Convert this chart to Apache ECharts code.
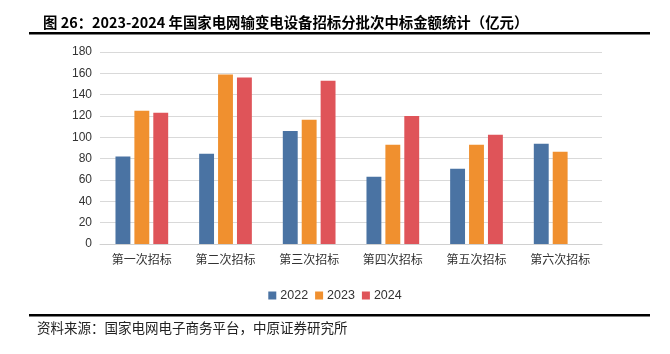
<!DOCTYPE html>
<html>
<head>
<meta charset="utf-8">
<script src="https://cdn.jsdelivr.net/npm/echarts@6/dist/echarts.min.js"></script>
<style>
  html, body { margin: 0; padding: 0; background: #fff; }
  #chart { width: 670px; height: 354px; }
</style>
</head>
<body>
<div id="chart"></div>
<script>
  var categories = ['第一次招标', '第二次招标', '第三次招标', '第四次招标', '第五次招标', '第六次招标']
  var years = ['2022', '2023', '2024']
  var data2022 = [82, 84.5, 106, 63, 70.5, 94]
  var data2023 = [125, 159, 116.5, 93, 93, 86.5]
  var data2024 = [123, 156, 153, 120, 102.5, null]
  var yTicks = { min: 0, max: 180, interval: 20 }

  var colors = ['#4a73a3', '#f0902f', '#df5459']
  var cjk = '"Noto Sans CJK SC", "Microsoft YaHei", sans-serif'

  var chart = echarts.init(document.getElementById('chart'), null, { renderer: 'canvas' })

  var seriesData = [data2022, data2023, data2024]
  var series = years.map(function (y, i) {
    return {
      name: y,
      type: 'bar',
      data: seriesData[i],
      barGap: '27%',
      barCategoryGap: '37%',
      itemStyle: { color: colors[i] }
    }
  })

  chart.setOption({
    animation: false,
    color: colors,
    title: {
      text: '图 26：2023-2024 年国家电网输变电设备招标分批次中标金额统计（亿元）',
      left: 38,
      top: 10,
      textStyle: { fontFamily: cjk, fontSize: 14.4, fontWeight: 'bold', color: '#000' }
    },
    graphic: [
      { type: 'rect', shape: { x: 29, y: 32, width: 621, height: 2.5 }, style: { fill: '#000' } },
      { type: 'rect', shape: { x: 29, y: 314, width: 621, height: 2.5 }, style: { fill: '#000' } },
      {
        type: 'text', left: 37, top: 321,
        style: { text: '资料来源：国家电网电子商务平台，中原证券研究所', font: '13.5px ' + cjk, fill: '#222' }
      }
    ],
    legend: {
      data: years,
      left: 'center',
      top: 284,
      itemWidth: 8,
      itemHeight: 8,
      itemGap: 7,
      icon: 'rect',
      textStyle: { fontFamily: 'Liberation Sans, Arial', fontSize: 12.5, color: '#333', padding: [0, 0, 0, -1] }
    },
    grid: { left: 100, right: 68, top: 52, bottom: 110, containLabel: false },
    xAxis: {
      type: 'category',
      data: categories,
      axisTick: { show: false },
      axisLine: { lineStyle: { color: '#d0d0d0' } },
      axisLabel: { fontFamily: cjk, fontSize: 12, color: '#333', margin: 9 }
    },
    yAxis: {
      type: 'value',
      min: yTicks.min,
      max: yTicks.max,
      interval: yTicks.interval,
      axisLine: { show: false },
      axisTick: { show: false },
      splitLine: { lineStyle: { color: '#d9d9d9' } },
      axisLabel: { fontFamily: 'Liberation Sans, Arial', fontSize: 12, color: '#333', margin: 8 }
    },
    series: series
  })
</script>
</body>
</html>
